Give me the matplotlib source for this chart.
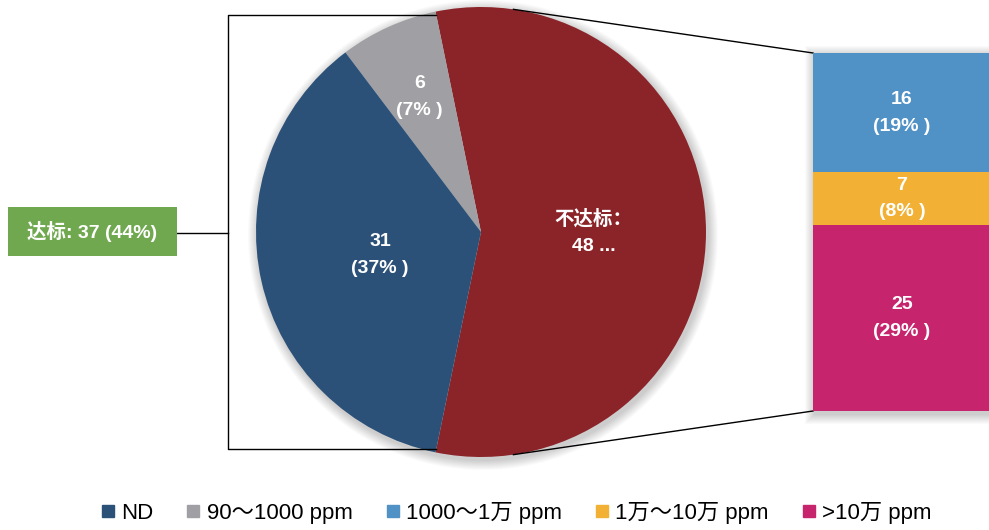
import numpy as np
import matplotlib

matplotlib.use("Agg")
import matplotlib.pyplot as plt
from matplotlib.patches import Circle, Rectangle
from matplotlib.lines import Line2D

plt.rcParams["font.family"] = ["Liberation Sans", "Noto Sans CJK SC"]

# main pie: failing share first, then the passing groups
pie_labels = ["不达标", "90～1000 ppm", "ND"]
pie_values = [48, 6, 31]
pie_pcts = [None, 7, 37]
pie_colors = ["#8b2429", "#a0a0a4", "#2c5178"]

# breakdown of the failing share (bottom to top)
bar_labels = [">10万 ppm", "1万～10万 ppm", "1000～1万 ppm"]
bar_values = [25, 7, 16]
bar_pcts = [29, 8, 19]
bar_colors = ["#c7246e", "#f2b134", "#5091c6"]

pass_label = "达标"
pass_value = 37
pass_pct = 44
fail_text = "不达标：\n48 ..."

legend_labels = ["ND", "90～1000 ppm", "1000～1万 ppm", "1万～10万 ppm", ">10万 ppm"]
legend_colors = ["#2c5178", "#a0a0a4", "#5091c6", "#f2b134", "#c7246e"]

total = sum(pie_values)
W, H = 989, 530
cx, cy, R = 481, 298, 225
label_kw = dict(color="white", fontsize=14, fontweight="bold", ha="center", va="center",
                linespacing=1.75)

fig = plt.figure(figsize=(W / 100, H / 100), dpi=100)
ax = fig.add_axes([0, 0, 1, 1])

# soft shadow behind the pie
for i in range(10, 0, -1):
    ax.add_patch(Circle((cx + 2, cy - 3), R + i, color="black", alpha=0.018, lw=0, zorder=0))

start = -0.5 * pie_values[0] / total * 360
wedges, _ = ax.pie(pie_values, colors=pie_colors, startangle=start, counterclock=True,
                   center=(cx, cy), radius=R, frame=True, wedgeprops=dict(linewidth=0))

pie_texts = [fail_text] + [f"{v}\n({p}% )" for v, p in zip(pie_values[1:], pie_pcts[1:])]
for w, dist, txt in zip(wedges, [0.5, 0.66, 0.46], pie_texts):
    th = np.deg2rad((w.theta1 + w.theta2) / 2)
    ax.text(cx + dist * R * np.cos(th), cy + dist * R * np.sin(th), txt, **label_kw)

# stacked bar for the failing share
bar_x, bar_w, bar_bottom, bar_h = 813, 178, 119, 358
scale = bar_h / sum(bar_values)
for i in range(10, 0, -1):
    ax.add_patch(Rectangle((bar_x - i + 2, bar_bottom - i - 3), bar_w + 2 * i, bar_h + 2 * i,
                           color="black", alpha=0.018, lw=0, zorder=0))
bottoms = np.concatenate([[0], np.cumsum(bar_values)[:-1]])
for v, p, b, c in zip(bar_values, bar_pcts, bottoms, bar_colors):
    ax.bar(bar_x, v * scale, width=bar_w, bottom=bar_bottom + b * scale, align="edge",
           color=c, lw=0, zorder=2)
    ax.text(bar_x + bar_w / 2, bar_bottom + (b + v / 2) * scale, f"{v}\n({p}% )",
            zorder=3, **label_kw)

# tangent connectors from pie to bar corners
def tangent_point(px, py, sign):
    d = np.hypot(px - cx, py - cy)
    phi = np.arctan2(py - cy, px - cx)
    a = phi + sign * np.arccos(R / d)
    return cx + R * np.cos(a), cy + R * np.sin(a)

for py, sign in [(bar_bottom + bar_h, 1), (bar_bottom, -1)]:
    tx, ty = tangent_point(bar_x, py, sign)
    ax.plot([tx, bar_x], [ty, py], color="black", lw=1, zorder=1)

# bracket around the passing slices
red = wedges[0]
t2, t1 = np.deg2rad(red.theta2), np.deg2rad(red.theta1)
bx = 228
ax.plot([cx + R * np.cos(t2), bx, bx, cx + R * np.cos(t1)],
        [cy + R * np.sin(t2) - 3, cy + R * np.sin(t2) - 3, cy + R * np.sin(t1) + 3, cy + R * np.sin(t1) + 3],
        color="black", lw=1, zorder=1)
ax.plot([177, bx], [297, 297], color="black", lw=1, zorder=1)

ax.add_patch(Rectangle((8, 274), 169, 49, color="#70a84f", lw=0, zorder=2))
ax.text(92.5, 298.5, f"{pass_label}: {pass_value} ({pass_pct}%)",
        color="white", fontsize=14, fontweight="bold", ha="center", va="center", zorder=3)

handles = [Line2D([], [], marker="s", ls="none", color=c, markersize=9) for c in legend_colors]
fig.legend(handles, legend_labels, loc="center", bbox_to_anchor=(0.521, 17 / H), ncol=5,
           frameon=False, fontsize=16, handletextpad=0.2, columnspacing=1.4, handlelength=0.8)

ax.set_xlim(0, W)
ax.set_ylim(0, H)
ax.set_aspect("equal")
ax.axis("off")
fig.savefig("out.png", dpi=100)
